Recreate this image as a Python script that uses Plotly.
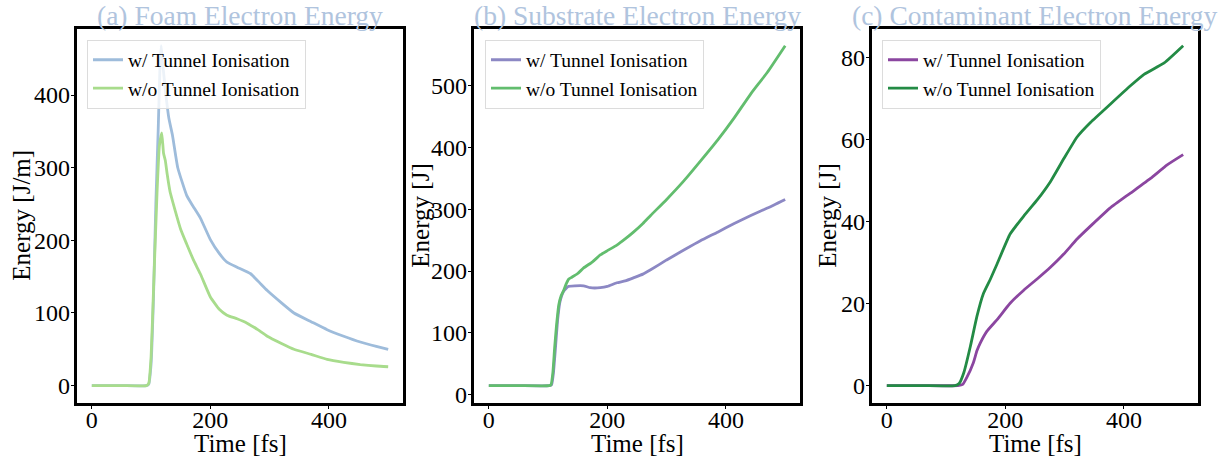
import plotly.graph_objects as go

# ---- (a) foam electrons, energy per unit length [J/m] ----
t_foam_w = [0, 50, 92, 96, 100, 104, 108, 112, 115, 117, 120, 125, 130, 136, 145, 160, 170, 183,
            200, 215, 228, 245, 268, 285, 296, 320, 341, 370, 397, 425, 453, 480, 500]
e_foam_w = [0, 0, 0, 2, 30, 120, 250, 352, 440, 468, 440, 400, 368, 345, 300, 262, 248, 231,
            201, 182, 170, 163, 154, 140, 131, 114, 100, 88, 77, 68, 60, 54, 50]

t_foam_wo = [0, 50, 92, 96, 100, 104, 110, 114, 118, 121, 124, 127, 132, 141, 150, 160, 172, 183,
             200, 215, 228, 245, 262, 280, 296, 320, 341, 370, 397, 425, 453, 480, 500]
e_foam_wo = [0, 0, 0, 3, 40, 130, 265, 330, 348, 320, 310, 292, 267, 240, 215, 195, 172, 154,
             122, 105, 97, 92, 86, 77, 68, 58, 50, 43, 36, 32, 29, 27, 26]

# ---- (b) substrate electrons [J] ----
t_sub_w = [0, 50, 102, 106, 109, 112, 116, 120, 126, 134, 145, 160, 171, 188, 200, 216, 230, 244,
           260, 273, 300, 329, 357, 386, 414, 442, 470, 500]
e_sub_w = [14.4, 14.4, 14.4, 16, 35, 70, 120, 150, 167, 175, 176, 176, 173, 173, 175, 181, 184,
           189, 195, 202, 218, 234, 249, 263, 277, 290, 302, 316]

t_sub_wo = [0, 50, 102, 105, 108, 111, 114, 118, 122, 126, 130, 135, 140, 150, 160, 175, 188,
            200, 216, 230, 244, 260, 273, 300, 329, 357, 386, 414, 442, 470, 500]
e_sub_wo = [14.4, 14.4, 14.4, 16, 35, 75, 110, 145, 160, 168, 178, 187, 190, 196, 205, 215, 226,
            233, 242, 252, 263, 277, 290, 316, 346, 378, 412, 448, 487, 522, 565]

# ---- (c) contaminant electrons [J] ----
t_con_w = [0, 60, 120, 128, 135, 146, 152, 158, 169, 186, 208, 231, 254, 276, 299, 321, 344,
           377, 411, 445, 473, 500]
e_con_w = [0, 0, 0, 0.3, 2, 5.6, 8.5, 10.5, 13.3, 16.1, 20.1, 23.3, 26.1, 28.9, 32.2, 35.8, 39,
           43.4, 47, 50.6, 53.9, 56.4]

t_con_wo = [0, 60, 115, 122, 130, 141, 152, 163, 175, 186, 208, 231, 254, 276, 299, 321, 344,
            377, 411, 434, 468, 500]
e_con_wo = [0, 0, 0, 0.5, 3.2, 9.6, 16.9, 22.5, 26.1, 29.7, 37, 41.4, 45.4, 49.8, 55.5, 60.7, 64.3,
            68.7, 73.2, 76, 78.8, 83]

label_w = "w/ Tunnel Ionisation"
label_wo = "w/o Tunnel Ionisation"

panel_titles = ["(a) Foam Electron Energy", "(b) Substrate Electron Energy",
                "(c) Contaminant Electron Energy"]
y_titles = ["Energy [J/m]", "Energy [J]", "Energy [J]"]
x_title = "Time [fs]"

series = [
    (t_foam_w, e_foam_w, t_foam_wo, e_foam_wo, "#9ebcdb", "#a8dc8c"),
    (t_sub_w, e_sub_w, t_sub_wo, e_sub_wo, "#8c88c4", "#62bd6e"),
    (t_con_w, e_con_w, t_con_wo, e_con_wo, "#8b46a0", "#238b45"),
]

W, H = 1227, 464
FONT = "Liberation Serif, Times New Roman, serif"

# plot areas in pixels (left, right, top, bottom)
boxes = [(77, 403, 29, 407), (474, 800, 29, 407), (872, 1198, 29, 407)]
y_ranges = [[-23.4, 491.4], [-13.1, 592.5], [-4.15, 87.15]]
y_dticks = [100, 100, 20]
legend_pos = [(87, 40), (485, 40), (882, 40)]
ylabel_x = [22, 421, 828]

fig = go.Figure()
layout = dict(
    width=W, height=H,
    margin=dict(l=0, r=0, t=0, b=0),
    paper_bgcolor="white", plot_bgcolor="white",
    font=dict(family=FONT, color="black"),
    annotations=[],
)


def ann(text, px, py, size, color="black", angle=0, yanchor="middle"):
    return dict(text=text, xref="paper", yref="paper", x=px / W, y=1 - py / H,
                xanchor="center", yanchor=yanchor, textangle=angle, showarrow=False,
                font=dict(family=FONT, size=size, color=color))


for i, (tw, ew, two, ewo, cw, cwo) in enumerate(series):
    n = "" if i == 0 else str(i + 1)
    leg = "legend" + n
    fig.add_trace(go.Scatter(x=tw, y=ew, mode="lines", name=label_w,
                             line=dict(color=cw, width=2.8, shape="spline", smoothing=0.4),
                             xaxis="x" + n, yaxis="y" + n, legend=leg))
    fig.add_trace(go.Scatter(x=two, y=ewo, mode="lines", name=label_wo,
                             line=dict(color=cwo, width=2.8, shape="spline", smoothing=0.4),
                             xaxis="x" + n, yaxis="y" + n, legend=leg))
    l, r, top, bot = boxes[i]
    common = dict(showline=True, mirror=True, linecolor="black", linewidth=2.5,
                  ticks="outside", ticklen=3.5, tickwidth=1, tickcolor="black",
                  showgrid=False, zeroline=False,
                  tickfont=dict(family=FONT, size=24, color="black"))
    layout["xaxis" + n] = dict(common, domain=[l / W, r / W], anchor="y" + n,
                               range=[-25, 525], tickmode="linear", tick0=0, dtick=200,
                               ticklabelstandoff=-10)
    layout["yaxis" + n] = dict(common, domain=[1 - bot / H, 1 - top / H], anchor="x" + n,
                               range=y_ranges[i], tickmode="linear", tick0=0,
                               dtick=y_dticks[i], ticklabelstandoff=-4)
    lx, ly = legend_pos[i]
    layout[leg] = dict(x=lx / W, y=1 - ly / H, xanchor="left", yanchor="top",
                       bgcolor="rgba(255,255,255,0.8)", bordercolor="#dcdcdc", borderwidth=1,
                       font=dict(family=FONT, size=19.5, color="black"))
    cx = (l + r) / 2
    layout["annotations"] += [
        ann(panel_titles[i], cx, 33, 27.5, color="#b0c4de", yanchor="bottom"),
        ann(x_title, cx, 448, 25),
        ann(y_titles[i], ylabel_x[i], (top + bot) / 2, 25, angle=-90),
    ]

fig.update_layout(**layout)
fig.write_html("out.html")
